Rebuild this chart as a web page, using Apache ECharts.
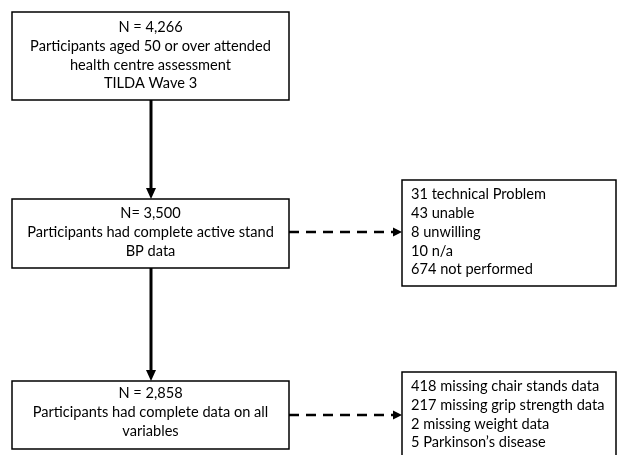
<!DOCTYPE html>
<html><head><meta charset="utf-8">
<script src="https://cdn.jsdelivr.net/npm/echarts@6/dist/echarts.min.js"></script>
<style>html,body{margin:0;padding:0;background:#fff}#c{width:617px;height:455px}</style>
</head><body><div id="c"></div>
<script>
// Text content (data)
var box1Lines = ["N = 4,266", "Participants aged 50 or over attended", "health centre assessment", "TILDA Wave 3"];
var box2Lines = ["N= 3,500", "Participants had complete active stand", "BP data"];
var box3Lines = ["31 technical Problem", "43 unable", "8 unwilling", "10 n/a", "674 not performed"];
var box4Lines = ["N = 2,858", "Participants had complete data on all", "variables"];
var box5Lines = ["418 missing chair stands data", "217 missing grip strength data", "2 missing weight data", "5 Parkinson\u2019s disease"];

var FONT = 'Lato';
var FS = 14.6;
var LH = 18.8;

function box(x, y, w, h) {
  return {type:'rect', shape:{x:x, y:y, width:w, height:h},
    style:{fill:'#fff', stroke:'#000', lineWidth:1.5}};
}
function centerText(lines, cx, cy) {
  return {type:'text', x:cx, y:cy, style:{text:lines.join('\n'), font: FS+'px '+FONT,
    fill:'#000', align:'center', verticalAlign:'middle', lineHeight:LH}};
}
function leftText(lines, x, cy) {
  return {type:'text', x:x, y:cy, style:{text:lines.join('\n'), font: FS+'px '+FONT,
    fill:'#000', align:'left', verticalAlign:'middle', lineHeight:LH}};
}
function vArrow(x, y1, y2) {
  return [
    {type:'line', shape:{x1:x, y1:y1, x2:x, y2:y2-8}, style:{stroke:'#000', lineWidth:3}},
    {type:'polygon', shape:{points:[[x-5,y2-11],[x+5,y2-11],[x,y2]]}, style:{fill:'#000'}}
  ];
}
function hDash(y, x1, x2) {
  return [
    {type:'line', shape:{x1:x1, y1:y, x2:x2-8, y2:y}, style:{stroke:'#000', lineWidth:2.5, lineDash:[10,7]}},
    {type:'polygon', shape:{points:[[x2-9,y-4.5],[x2-9,y+4.5],[x2,y]]}, style:{fill:'#000'}}
  ];
}

var chart = echarts.init(document.getElementById('c'), null, {renderer:'canvas'});
var g = [];
g = g.concat(vArrow(151, 100, 199));
g = g.concat(vArrow(151, 268, 381));
g = g.concat(hDash(232, 289, 402));
g = g.concat(hDash(415, 289, 402));
g.push(box(12, 12, 277, 88));
g.push(box(12, 199, 277, 69));
g.push(box(12, 381, 277, 68));
g.push(box(402, 180, 214, 106));
g.push(box(402, 372, 214, 100));
g.push(centerText(box1Lines, 150.5, 55.5));
g.push(centerText(box2Lines, 150.5, 232.5));
g.push(centerText(box4Lines, 150.5, 412.5));
g.push(leftText(box3Lines, 411, 232));
g.push(leftText(box5Lines, 411, 414.5));

chart.setOption({animation:false, graphic:{elements:g}});
</script></body></html>
